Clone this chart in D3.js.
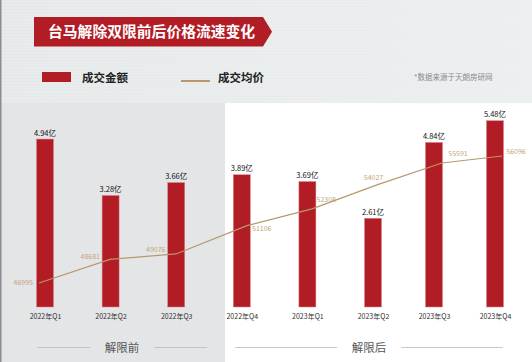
<!DOCTYPE html>
<html>
<head>
<meta charset="utf-8">
<script src="https://cdn.jsdelivr.net/npm/d3@7"></script>
<style>
  body { margin: 0; background: #fff; }
  svg { display: block; font-family: "Noto Sans CJK SC", "Noto Sans", sans-serif; }
</style>
</head>
<body>
<script>
const quarters = ['2022年Q1', '2022年Q2', '2022年Q3', '2022年Q4', '2023年Q1', '2023年Q2', '2023年Q3', '2023年Q4'];
const amounts = [4.94, 3.28, 3.66, 3.89, 3.69, 2.61, 4.84, 5.48];
const prices = [46995, 48681, 49076, 51106, 52308, 54027, 55591, 56096];
const periods = ['解限前', '解限后'];

// where each price label sits relative to its point: [dx, dy, anchor]
const priceLabelPlace = [
	[-6, 2.5, 'end'],
	[-10, 0, 'end'],
	[-10.5, -2, 'end'],
	[5, 5, 'start'],
	[4.5, -7, 'start'],
	[-3.5, -5, 'middle'],
	[6.3, -6.7, 'start'],
	[4.3, -2, 'start']
];

const w = 532;
const h = 362;
const red = '#b21c25';
const tan = '#b8976c';

const svg = d3.select('body').append('svg')
	.attr('width', w)
	.attr('height', h);

// background
const defs = svg.append('defs');
const grad = defs.append('linearGradient').attr('id', 'hdr').attr('x1', 0).attr('x2', 1);
grad.append('stop').attr('offset', 0).attr('stop-color', '#e5e8e9');
grad.append('stop').attr('offset', 1).attr('stop-color', '#eceff0');

svg.append('rect').attr('width', w).attr('height', h).attr('fill', '#fff');
svg.append('rect').attr('width', w).attr('height', 103).attr('fill', 'url(#hdr)');
svg.append('rect').attr('y', 103).attr('width', 225).attr('height', h - 103).attr('fill', '#e3e5e6');

svg.append('g')
	.selectAll('line')
	.data(d3.range(2, 103, 3))
	.join('line')
	.attr('x1', 0).attr('x2', w)
	.attr('y1', d => d).attr('y2', d => d)
	.attr('stroke', '#f4f6f6')
	.attr('stroke-width', 0.8)
	.attr('opacity', 0.6);

svg.append('rect').attr('width', 1.5).attr('height', h).attr('fill', '#8a8c8e');

// title banner
svg.append('path')
	.attr('d', 'M34,17 H263 L272,31.8 L263,46.5 H34 Z')
	.attr('fill', red);
svg.append('text')
	.attr('x', 48).attr('y', 37)
	.attr('fill', '#fff')
	.attr('font-size', 14.8)
	.attr('font-weight', 'bold')
	.text('台马解除双限前后价格流速变化');

// legend
svg.append('rect').attr('x', 42).attr('y', 72).attr('width', 29).attr('height', 10).attr('fill', red);
svg.append('text').attr('x', 82).attr('y', 82).attr('font-size', 11.5).attr('font-weight', 'bold').attr('fill', '#222').text('成交金额');
svg.append('line').attr('x1', 181).attr('x2', 210).attr('y1', 81).attr('y2', 81).attr('stroke', tan).attr('stroke-width', 2);
svg.append('text').attr('x', 218).attr('y', 82).attr('font-size', 11.5).attr('font-weight', 'bold').attr('fill', '#222').text('成交均价');
svg.append('text').attr('x', 414).attr('y', 80).attr('font-size', 7.5).attr('fill', '#8a8a8a').text('*数据来源于天朗房研网');

// scales (index based; the original spacing is not quite even)
const x = d3.scaleLinear().domain([0, 5, 7]).range([45, 373, 495]);
const xLine = d3.scaleLinear().domain([0, 1, 2, 3, 6, 7]).range([39, 110, 176, 247, 442, 502]);
const y = d3.scaleLinear().domain([0, 6]).range([307, 103]);
const y2 = d3.scaleLinear().domain([40000, 60000]).range([380.6, 101.5]);
const bw = 17;

// bars
svg.append('g')
	.selectAll('rect')
	.data(amounts)
	.join('rect')
	.attr('x', (d, i) => x(i) - bw / 2)
	.attr('y', d => y(d))
	.attr('width', bw)
	.attr('height', d => y(0) - y(d))
	.attr('fill', red)
	.attr('stroke', '#d8868a')
	.attr('stroke-width', 0.5);

svg.append('g')
	.selectAll('text')
	.data(amounts)
	.join('text')
	.attr('x', (d, i) => x(i))
	.attr('y', d => y(d) - 3.5)
	.attr('text-anchor', 'middle')
	.attr('font-size', 7.5)
	.attr('fill', '#111')
	.text(d => d.toFixed(2) + '亿');

// x axis labels
const xAxis = svg.append('g')
	.attr('transform', `translate(0,${y(0)})`)
	.call(d3.axisBottom(x).tickValues(d3.range(quarters.length)).tickFormat(i => quarters[i]).tickSize(0).tickPadding(7));
xAxis.select('.domain').remove();
xAxis.selectAll('text')
	.attr('font-size', 7)
	.attr('fill', '#333')
	.attr('font-family', '"Noto Sans CJK SC", sans-serif');

// price line
const line = d3.line()
	.x((d, i) => xLine(i))
	.y(d => y2(d));

svg.append('path')
	.datum(prices)
	.attr('d', line)
	.attr('fill', 'none')
	.attr('stroke', tan)
	.attr('stroke-width', 1.2);

svg.append('g')
	.selectAll('text')
	.data(prices)
	.join('text')
	.attr('x', (d, i) => xLine(i) + priceLabelPlace[i][0])
	.attr('y', (d, i) => y2(d) + priceLabelPlace[i][1])
	.attr('text-anchor', (d, i) => priceLabelPlace[i][2])
	.attr('font-size', 7)
	.attr('fill', '#c4a57d')
	.text(d => d);

// period labels
const periodSpans = [[37, 207], [235, 503]];
periods.forEach((p, i) => {
	const [a, b] = periodSpans[i];
	const c = (a + b) / 2;
	const g = svg.append('g');
	g.append('line').attr('x1', a).attr('x2', c - 32).attr('y1', 347.5).attr('y2', 347.5).attr('stroke', '#bbb').attr('stroke-width', 0.8);
	g.append('line').attr('x1', c + 32).attr('x2', b).attr('y1', 347.5).attr('y2', 347.5).attr('stroke', '#bbb').attr('stroke-width', 0.8);
	g.append('text').attr('x', c).attr('y', 351.8).attr('text-anchor', 'middle').attr('font-size', 11.5).attr('fill', '#555').text(p);
});
</script>
</body>
</html>
